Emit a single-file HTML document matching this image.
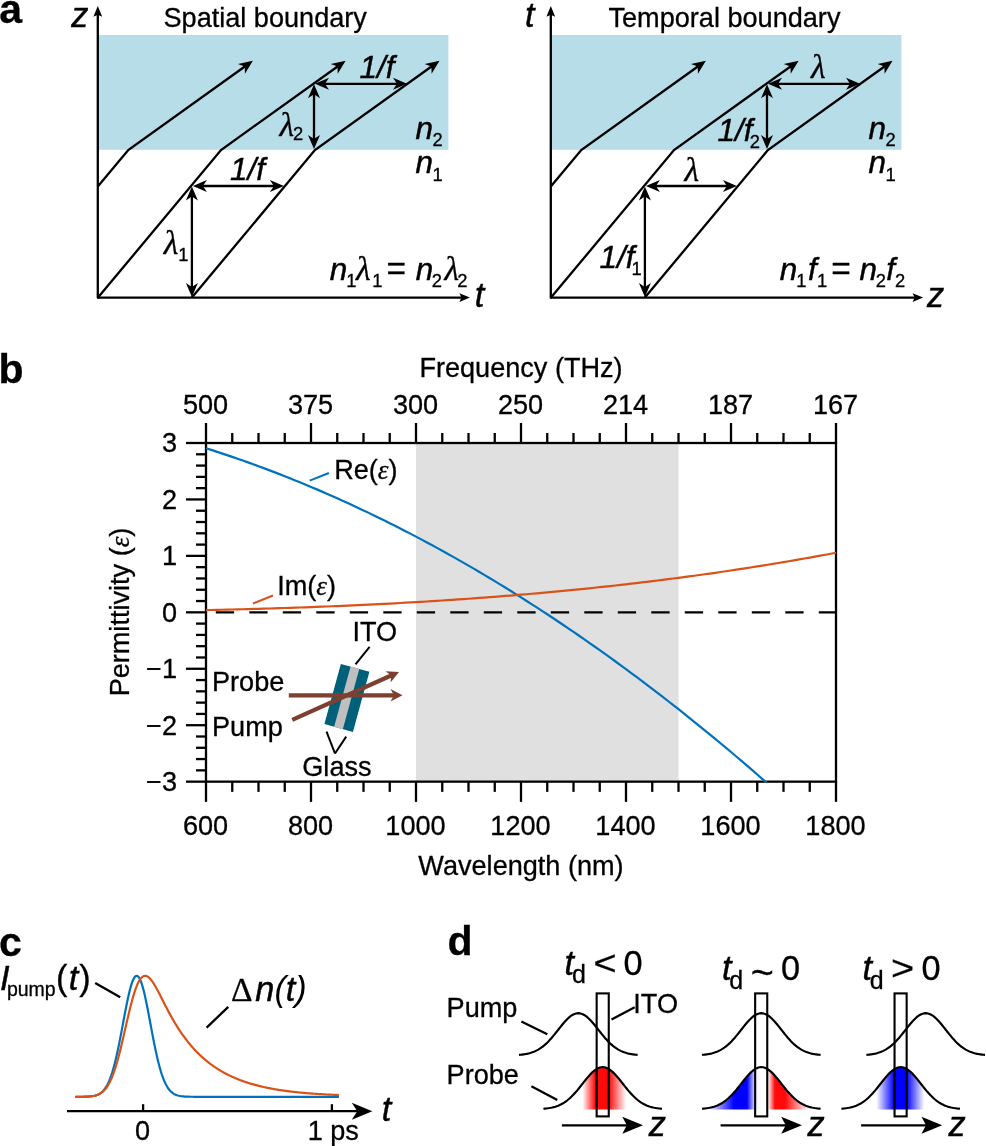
<!DOCTYPE html>
<html lang="en"><head><meta charset="utf-8"><title>Figure</title>
<style>
html,body{margin:0;padding:0;background:#fff;}
svg{display:block;}
text{fill:#000;stroke:#000;stroke-width:0.3px;}
.i{stroke-width:0.45px;}
.u{font-family:"Liberation Sans",Arial,Helvetica,sans-serif;font-style:normal;font-weight:normal;}
.i{font-family:"Liberation Sans",Arial,Helvetica,sans-serif;font-style:italic;font-weight:normal;}
.b{font-family:"Liberation Sans",Arial,Helvetica,sans-serif;font-weight:bold;}
.ip{font-family:"Liberation Sans",Arial,Helvetica,sans-serif;font-style:italic;font-weight:normal;stroke:none;}
.s{font-family:"Liberation Serif","Times New Roman",serif;font-style:normal;}
.si{font-family:"Liberation Serif","Times New Roman",serif;font-style:italic;}
</style></head><body>
<svg width="986" height="1146" viewBox="0 0 986 1146">
<rect width="986" height="1146" fill="#fff"/>
<rect x="99.0" y="35" width="349.4" height="114.8" fill="#b7dde8"/>
<line x1="97.80" y1="297.60" x2="97.80" y2="14.20" stroke="#000" stroke-width="2.3" />
<polygon points="97.80,6.00 102.20,16.70 97.80,14.70 93.40,16.70" fill="#000"/>
<line x1="98.00" y1="297.60" x2="461.90" y2="297.60" stroke="#000" stroke-width="2.3" />
<polygon points="469.90,297.60 459.40,301.90 461.40,297.60 459.40,293.30" fill="#000"/>
<line x1="96.85" y1="297.60" x2="99.00" y2="297.60" stroke="#000" stroke-width="2.3" />
<polyline points="98.00,186.30 128.25,150.00 245.54,65.95" fill="none" stroke="#000" stroke-width="2.3" stroke-linejoin="miter"/>
<polygon points="252.85,60.70 244.97,73.74 244.73,66.53 237.98,63.99" fill="#000"/>
<polyline points="98.00,297.60 221.00,150.00 338.29,65.95" fill="none" stroke="#000" stroke-width="2.3" stroke-linejoin="miter"/>
<polygon points="345.60,60.70 337.72,73.74 337.48,66.53 330.73,63.99" fill="#000"/>
<polyline points="191.90,297.60 314.90,150.00 432.19,65.95" fill="none" stroke="#000" stroke-width="2.3" stroke-linejoin="miter"/>
<polygon points="439.50,60.70 431.62,73.74 431.38,66.53 424.63,63.99" fill="#000"/>
<line x1="191.90" y1="287.60" x2="191.90" y2="196.10" stroke="#000" stroke-width="2.3" />
<polygon points="191.90,186.60 197.90,200.60 191.90,196.60 185.90,200.60" fill="#000"/>
<polygon points="191.90,297.10 185.90,283.10 191.90,287.10 197.90,283.10" fill="#000"/>
<line x1="202.40" y1="186.00" x2="274.40" y2="186.00" stroke="#000" stroke-width="2.3" />
<polygon points="283.90,186.00 269.90,192.00 273.90,186.00 269.90,180.00" fill="#000"/>
<polygon points="192.90,186.00 206.90,180.00 202.90,186.00 206.90,192.00" fill="#000"/>
<line x1="314.00" y1="139.50" x2="314.00" y2="93.85" stroke="#000" stroke-width="2.3" />
<polygon points="314.00,84.35 320.00,98.35 314.00,94.35 308.00,98.35" fill="#000"/>
<polygon points="314.00,149.00 308.00,135.00 314.00,139.00 320.00,135.00" fill="#000"/>
<line x1="324.50" y1="83.85" x2="397.50" y2="83.85" stroke="#000" stroke-width="2.3" />
<polygon points="407.00,83.85 393.00,89.85 397.00,83.85 393.00,77.85" fill="#000"/>
<polygon points="315.00,83.85 329.00,77.85 325.00,83.85 329.00,89.85" fill="#000"/>
<text x="-0.8" y="22.8" font-size="41.0" text-anchor="start" class="b" >a</text>
<text x="71.3" y="27.0" font-size="34.3" class="i">z</text>
<text x="474.8" y="306.9" font-size="34.3" class="i">t</text>
<text x="359.6" y="77.6" font-size="31.5" class="i">1/f</text>
<text x="230.1" y="180.3" font-size="31.5" class="i">1/f</text>
<text x="279.4" y="135.5" font-size="33.7" class="si">λ</text>
<text x="293.1" y="140.4" font-size="18.4" class="u">2</text>
<text x="163.8" y="253.8" font-size="33.7" class="si">λ</text>
<text x="178.3" y="260.5" font-size="18.4" class="u">1</text>
<text x="415.5" y="139.3" font-size="31.5" class="i">n</text>
<text x="432.5" y="146.3" font-size="18.4" class="u">2</text>
<text x="415.5" y="173.4" font-size="31.5" class="i">n</text>
<text x="432.5" y="180.5" font-size="18.4" class="u">1</text>
<text x="329.7" y="279.7" font-size="31.5" class="i">n</text>
<text x="346.3" y="286.6" font-size="18.4" class="u">1</text>
<text x="356.1" y="279.7" font-size="33.7" class="si">λ</text>
<text x="372.2" y="286.6" font-size="18.4" class="u">1</text>
<text x="386.5" y="279.7" font-size="33.5" class="u">=</text>
<text x="415.7" y="279.7" font-size="31.5" class="i">n</text>
<text x="431.8" y="286.6" font-size="18.4" class="u">2</text>
<text x="444.4" y="279.7" font-size="33.7" class="si">λ</text>
<text x="457.2" y="286.6" font-size="18.4" class="u">2</text>
<text x="163.5" y="26.5" font-size="27.1" text-anchor="start" class="u" >Spatial boundary</text>
<rect x="552.0" y="35" width="349.4" height="114.8" fill="#b7dde8"/>
<line x1="550.80" y1="297.60" x2="550.80" y2="14.20" stroke="#000" stroke-width="2.3" />
<polygon points="550.80,6.00 555.20,16.70 550.80,14.70 546.40,16.70" fill="#000"/>
<line x1="551.00" y1="297.60" x2="915.10" y2="297.60" stroke="#000" stroke-width="2.3" />
<polygon points="923.10,297.60 912.60,301.90 914.60,297.60 912.60,293.30" fill="#000"/>
<line x1="549.85" y1="297.60" x2="552.00" y2="297.60" stroke="#000" stroke-width="2.3" />
<polyline points="551.00,186.30 581.25,150.00 698.54,65.95" fill="none" stroke="#000" stroke-width="2.3" stroke-linejoin="miter"/>
<polygon points="705.85,60.70 697.97,73.74 697.73,66.53 690.98,63.99" fill="#000"/>
<polyline points="551.00,297.60 674.00,150.00 791.29,65.95" fill="none" stroke="#000" stroke-width="2.3" stroke-linejoin="miter"/>
<polygon points="798.60,60.70 790.72,73.74 790.48,66.53 783.73,63.99" fill="#000"/>
<polyline points="644.90,297.60 767.90,150.00 885.19,65.95" fill="none" stroke="#000" stroke-width="2.3" stroke-linejoin="miter"/>
<polygon points="892.50,60.70 884.62,73.74 884.38,66.53 877.63,63.99" fill="#000"/>
<line x1="644.90" y1="287.60" x2="644.90" y2="196.10" stroke="#000" stroke-width="2.3" />
<polygon points="644.90,186.60 650.90,200.60 644.90,196.60 638.90,200.60" fill="#000"/>
<polygon points="644.90,297.10 638.90,283.10 644.90,287.10 650.90,283.10" fill="#000"/>
<line x1="655.40" y1="186.00" x2="727.40" y2="186.00" stroke="#000" stroke-width="2.3" />
<polygon points="736.90,186.00 722.90,192.00 726.90,186.00 722.90,180.00" fill="#000"/>
<polygon points="645.90,186.00 659.90,180.00 655.90,186.00 659.90,192.00" fill="#000"/>
<line x1="767.00" y1="139.50" x2="767.00" y2="93.85" stroke="#000" stroke-width="2.3" />
<polygon points="767.00,84.35 773.00,98.35 767.00,94.35 761.00,98.35" fill="#000"/>
<polygon points="767.00,149.00 761.00,135.00 767.00,139.00 773.00,135.00" fill="#000"/>
<line x1="777.50" y1="83.85" x2="850.50" y2="83.85" stroke="#000" stroke-width="2.3" />
<polygon points="860.00,83.85 846.00,89.85 850.00,83.85 846.00,77.85" fill="#000"/>
<polygon points="768.00,83.85 782.00,77.85 778.00,83.85 782.00,89.85" fill="#000"/>
<text x="524.9" y="26.9" font-size="34.3" class="i">t</text>
<text x="927.1" y="306.8" font-size="34.3" class="i">z</text>
<text x="811.0" y="77.6" font-size="33.7" class="si">λ</text>
<text x="684.5" y="181.4" font-size="33.7" class="si">λ</text>
<text x="717.6" y="140.9" font-size="31.5" class="i">1/f</text>
<text x="749.8" y="147.9" font-size="18.4" class="u">2</text>
<text x="599.5" y="268.0" font-size="31.5" class="i">1/f</text>
<text x="631.6" y="274.8" font-size="18.4" class="u">1</text>
<text x="868.5" y="139.3" font-size="31.5" class="i">n</text>
<text x="885.5" y="146.3" font-size="18.4" class="u">2</text>
<text x="868.5" y="173.4" font-size="31.5" class="i">n</text>
<text x="885.5" y="180.5" font-size="18.4" class="u">1</text>
<text x="779.7" y="279.7" font-size="31.5" class="i">n</text>
<text x="796.3" y="286.6" font-size="18.4" class="u">1</text>
<text x="807.9" y="279.7" font-size="31.5" class="i">f</text>
<text x="816.9" y="286.6" font-size="18.4" class="u">1</text>
<text x="831.2" y="279.7" font-size="33.5" class="u">=</text>
<text x="859.6" y="279.7" font-size="31.5" class="i">n</text>
<text x="875.7" y="286.6" font-size="18.4" class="u">2</text>
<text x="886.3" y="279.7" font-size="31.5" class="i">f</text>
<text x="895.0" y="286.6" font-size="18.4" class="u">2</text>
<text x="608.5" y="26.5" font-size="27.1" text-anchor="start" class="u" >Temporal boundary</text>
<text x="-1.6" y="383.4" font-size="41.0" text-anchor="start" class="b" >b</text>
<rect x="416.0" y="443.0" width="262.5" height="338.6" fill="#e0e0e0"/>
<line x1="215.8" y1="612.3" x2="836.0" y2="612.3" stroke="#000" stroke-width="2.2" stroke-dasharray="18.3 15.2"/>
<rect x="206.0" y="443.0" width="630.0" height="338.65" fill="none" stroke="#000" stroke-width="2.3"/>
<line x1="206.00" y1="443.00" x2="206.00" y2="423.00" stroke="#000" stroke-width="2.3" />
<line x1="206.00" y1="781.65" x2="206.00" y2="801.85" stroke="#000" stroke-width="2.3" />
<line x1="232.25" y1="443.00" x2="232.25" y2="433.00" stroke="#000" stroke-width="2.3" />
<line x1="232.25" y1="781.65" x2="232.25" y2="791.85" stroke="#000" stroke-width="2.3" />
<line x1="258.50" y1="443.00" x2="258.50" y2="433.00" stroke="#000" stroke-width="2.3" />
<line x1="258.50" y1="781.65" x2="258.50" y2="791.85" stroke="#000" stroke-width="2.3" />
<line x1="284.75" y1="443.00" x2="284.75" y2="433.00" stroke="#000" stroke-width="2.3" />
<line x1="284.75" y1="781.65" x2="284.75" y2="791.85" stroke="#000" stroke-width="2.3" />
<line x1="311.00" y1="443.00" x2="311.00" y2="423.00" stroke="#000" stroke-width="2.3" />
<line x1="311.00" y1="781.65" x2="311.00" y2="801.85" stroke="#000" stroke-width="2.3" />
<line x1="337.25" y1="443.00" x2="337.25" y2="433.00" stroke="#000" stroke-width="2.3" />
<line x1="337.25" y1="781.65" x2="337.25" y2="791.85" stroke="#000" stroke-width="2.3" />
<line x1="363.50" y1="443.00" x2="363.50" y2="433.00" stroke="#000" stroke-width="2.3" />
<line x1="363.50" y1="781.65" x2="363.50" y2="791.85" stroke="#000" stroke-width="2.3" />
<line x1="389.75" y1="443.00" x2="389.75" y2="433.00" stroke="#000" stroke-width="2.3" />
<line x1="389.75" y1="781.65" x2="389.75" y2="791.85" stroke="#000" stroke-width="2.3" />
<line x1="416.00" y1="443.00" x2="416.00" y2="423.00" stroke="#000" stroke-width="2.3" />
<line x1="416.00" y1="781.65" x2="416.00" y2="801.85" stroke="#000" stroke-width="2.3" />
<line x1="442.25" y1="443.00" x2="442.25" y2="433.00" stroke="#000" stroke-width="2.3" />
<line x1="442.25" y1="781.65" x2="442.25" y2="791.85" stroke="#000" stroke-width="2.3" />
<line x1="468.50" y1="443.00" x2="468.50" y2="433.00" stroke="#000" stroke-width="2.3" />
<line x1="468.50" y1="781.65" x2="468.50" y2="791.85" stroke="#000" stroke-width="2.3" />
<line x1="494.75" y1="443.00" x2="494.75" y2="433.00" stroke="#000" stroke-width="2.3" />
<line x1="494.75" y1="781.65" x2="494.75" y2="791.85" stroke="#000" stroke-width="2.3" />
<line x1="521.00" y1="443.00" x2="521.00" y2="423.00" stroke="#000" stroke-width="2.3" />
<line x1="521.00" y1="781.65" x2="521.00" y2="801.85" stroke="#000" stroke-width="2.3" />
<line x1="547.25" y1="443.00" x2="547.25" y2="433.00" stroke="#000" stroke-width="2.3" />
<line x1="547.25" y1="781.65" x2="547.25" y2="791.85" stroke="#000" stroke-width="2.3" />
<line x1="573.50" y1="443.00" x2="573.50" y2="433.00" stroke="#000" stroke-width="2.3" />
<line x1="573.50" y1="781.65" x2="573.50" y2="791.85" stroke="#000" stroke-width="2.3" />
<line x1="599.75" y1="443.00" x2="599.75" y2="433.00" stroke="#000" stroke-width="2.3" />
<line x1="599.75" y1="781.65" x2="599.75" y2="791.85" stroke="#000" stroke-width="2.3" />
<line x1="626.00" y1="443.00" x2="626.00" y2="423.00" stroke="#000" stroke-width="2.3" />
<line x1="626.00" y1="781.65" x2="626.00" y2="801.85" stroke="#000" stroke-width="2.3" />
<line x1="652.25" y1="443.00" x2="652.25" y2="433.00" stroke="#000" stroke-width="2.3" />
<line x1="652.25" y1="781.65" x2="652.25" y2="791.85" stroke="#000" stroke-width="2.3" />
<line x1="678.50" y1="443.00" x2="678.50" y2="433.00" stroke="#000" stroke-width="2.3" />
<line x1="678.50" y1="781.65" x2="678.50" y2="791.85" stroke="#000" stroke-width="2.3" />
<line x1="704.75" y1="443.00" x2="704.75" y2="433.00" stroke="#000" stroke-width="2.3" />
<line x1="704.75" y1="781.65" x2="704.75" y2="791.85" stroke="#000" stroke-width="2.3" />
<line x1="731.00" y1="443.00" x2="731.00" y2="423.00" stroke="#000" stroke-width="2.3" />
<line x1="731.00" y1="781.65" x2="731.00" y2="801.85" stroke="#000" stroke-width="2.3" />
<line x1="757.25" y1="443.00" x2="757.25" y2="433.00" stroke="#000" stroke-width="2.3" />
<line x1="757.25" y1="781.65" x2="757.25" y2="791.85" stroke="#000" stroke-width="2.3" />
<line x1="783.50" y1="443.00" x2="783.50" y2="433.00" stroke="#000" stroke-width="2.3" />
<line x1="783.50" y1="781.65" x2="783.50" y2="791.85" stroke="#000" stroke-width="2.3" />
<line x1="809.75" y1="443.00" x2="809.75" y2="433.00" stroke="#000" stroke-width="2.3" />
<line x1="809.75" y1="781.65" x2="809.75" y2="791.85" stroke="#000" stroke-width="2.3" />
<line x1="836.00" y1="443.00" x2="836.00" y2="423.00" stroke="#000" stroke-width="2.3" />
<line x1="836.00" y1="781.65" x2="836.00" y2="801.85" stroke="#000" stroke-width="2.3" />
<line x1="206.00" y1="443.00" x2="186.00" y2="443.00" stroke="#000" stroke-width="2.3" />
<line x1="206.00" y1="454.29" x2="196.00" y2="454.29" stroke="#000" stroke-width="2.3" />
<line x1="206.00" y1="465.58" x2="196.00" y2="465.58" stroke="#000" stroke-width="2.3" />
<line x1="206.00" y1="476.87" x2="196.00" y2="476.87" stroke="#000" stroke-width="2.3" />
<line x1="206.00" y1="488.15" x2="196.00" y2="488.15" stroke="#000" stroke-width="2.3" />
<line x1="206.00" y1="499.44" x2="186.00" y2="499.44" stroke="#000" stroke-width="2.3" />
<line x1="206.00" y1="510.73" x2="196.00" y2="510.73" stroke="#000" stroke-width="2.3" />
<line x1="206.00" y1="522.02" x2="196.00" y2="522.02" stroke="#000" stroke-width="2.3" />
<line x1="206.00" y1="533.31" x2="196.00" y2="533.31" stroke="#000" stroke-width="2.3" />
<line x1="206.00" y1="544.60" x2="196.00" y2="544.60" stroke="#000" stroke-width="2.3" />
<line x1="206.00" y1="555.88" x2="186.00" y2="555.88" stroke="#000" stroke-width="2.3" />
<line x1="206.00" y1="567.17" x2="196.00" y2="567.17" stroke="#000" stroke-width="2.3" />
<line x1="206.00" y1="578.46" x2="196.00" y2="578.46" stroke="#000" stroke-width="2.3" />
<line x1="206.00" y1="589.75" x2="196.00" y2="589.75" stroke="#000" stroke-width="2.3" />
<line x1="206.00" y1="601.04" x2="196.00" y2="601.04" stroke="#000" stroke-width="2.3" />
<line x1="206.00" y1="612.33" x2="186.00" y2="612.33" stroke="#000" stroke-width="2.3" />
<line x1="206.00" y1="623.61" x2="196.00" y2="623.61" stroke="#000" stroke-width="2.3" />
<line x1="206.00" y1="634.90" x2="196.00" y2="634.90" stroke="#000" stroke-width="2.3" />
<line x1="206.00" y1="646.19" x2="196.00" y2="646.19" stroke="#000" stroke-width="2.3" />
<line x1="206.00" y1="657.48" x2="196.00" y2="657.48" stroke="#000" stroke-width="2.3" />
<line x1="206.00" y1="668.77" x2="186.00" y2="668.77" stroke="#000" stroke-width="2.3" />
<line x1="206.00" y1="680.05" x2="196.00" y2="680.05" stroke="#000" stroke-width="2.3" />
<line x1="206.00" y1="691.34" x2="196.00" y2="691.34" stroke="#000" stroke-width="2.3" />
<line x1="206.00" y1="702.63" x2="196.00" y2="702.63" stroke="#000" stroke-width="2.3" />
<line x1="206.00" y1="713.92" x2="196.00" y2="713.92" stroke="#000" stroke-width="2.3" />
<line x1="206.00" y1="725.21" x2="186.00" y2="725.21" stroke="#000" stroke-width="2.3" />
<line x1="206.00" y1="736.50" x2="196.00" y2="736.50" stroke="#000" stroke-width="2.3" />
<line x1="206.00" y1="747.79" x2="196.00" y2="747.79" stroke="#000" stroke-width="2.3" />
<line x1="206.00" y1="759.07" x2="196.00" y2="759.07" stroke="#000" stroke-width="2.3" />
<line x1="206.00" y1="770.36" x2="196.00" y2="770.36" stroke="#000" stroke-width="2.3" />
<line x1="206.00" y1="781.65" x2="186.00" y2="781.65" stroke="#000" stroke-width="2.3" />
<clipPath id="cpb"><rect x="205.0" y="443.0" width="632.0" height="339.45"/></clipPath>
<polyline points="206.00,448.24 211.25,449.91 216.50,451.61 221.75,453.33 227.00,455.09 232.25,456.87 237.50,458.68 242.75,460.51 248.00,462.38 253.25,464.27 258.50,466.19 263.75,468.14 269.00,470.11 274.25,472.11 279.50,474.14 284.75,476.20 290.00,478.28 295.25,480.40 300.50,482.54 305.75,484.71 311.00,486.90 316.25,489.12 321.50,491.38 326.75,493.65 332.00,495.96 337.25,498.29 342.50,500.66 347.75,503.04 353.00,505.46 358.25,507.91 363.50,510.38 368.75,512.88 374.00,515.40 379.25,517.96 384.50,520.54 389.75,523.15 395.00,525.79 400.25,528.45 405.50,531.15 410.75,533.87 416.00,536.61 421.25,539.39 426.50,542.19 431.75,545.02 437.00,547.88 442.25,550.77 447.50,553.68 452.75,556.62 458.00,559.59 463.25,562.59 468.50,565.61 473.75,568.66 479.00,571.74 484.25,574.85 489.50,577.99 494.75,581.15 500.00,584.34 505.25,587.56 510.50,590.80 515.75,594.07 521.00,597.37 526.25,600.70 531.50,604.06 536.75,607.44 542.00,610.85 547.25,614.29 552.50,617.76 557.75,621.25 563.00,624.77 568.25,628.32 573.50,631.90 578.75,635.50 584.00,639.13 589.25,642.79 594.50,646.48 599.75,650.19 605.00,653.94 610.25,657.71 615.50,661.50 620.75,665.33 626.00,669.18 631.25,673.06 636.50,676.97 641.75,680.90 647.00,684.87 652.25,688.86 657.50,692.88 662.75,696.92 668.00,701.00 673.25,705.10 678.50,709.23 683.75,713.38 689.00,717.57 694.25,721.78 699.50,726.02 704.75,730.29 710.00,734.58 715.25,738.90 720.50,743.25 725.75,747.63 731.00,752.03 736.25,756.47 741.50,760.93 746.75,765.42 752.00,769.93 757.25,774.47 762.50,779.05 767.75,783.64 773.00,788.27 778.25,792.92 783.50,797.60" fill="none" stroke="#0072bd" stroke-width="2.2" clip-path="url(#cpb)"/>
<polyline points="206.00,610.12 211.25,610.01 216.50,609.89 221.75,609.77 227.00,609.65 232.25,609.52 237.50,609.39 242.75,609.25 248.00,609.11 253.25,608.97 258.50,608.82 263.75,608.67 269.00,608.51 274.25,608.35 279.50,608.19 284.75,608.02 290.00,607.84 295.25,607.66 300.50,607.48 305.75,607.29 311.00,607.09 316.25,606.90 321.50,606.69 326.75,606.48 332.00,606.27 337.25,606.05 342.50,605.83 347.75,605.60 353.00,605.36 358.25,605.12 363.50,604.88 368.75,604.63 374.00,604.37 379.25,604.11 384.50,603.84 389.75,603.57 395.00,603.29 400.25,603.00 405.50,602.71 410.75,602.41 416.00,602.11 421.25,601.80 426.50,601.48 431.75,601.16 437.00,600.83 442.25,600.50 447.50,600.16 452.75,599.81 458.00,599.46 463.25,599.10 468.50,598.73 473.75,598.35 479.00,597.97 484.25,597.58 489.50,597.19 494.75,596.79 500.00,596.38 505.25,595.96 510.50,595.54 515.75,595.11 521.00,594.67 526.25,594.23 531.50,593.77 536.75,593.31 542.00,592.85 547.25,592.37 552.50,591.89 557.75,591.40 563.00,590.90 568.25,590.39 573.50,589.88 578.75,589.36 584.00,588.83 589.25,588.29 594.50,587.74 599.75,587.19 605.00,586.63 610.25,586.06 615.50,585.48 620.75,584.89 626.00,584.29 631.25,583.69 636.50,583.07 641.75,582.45 647.00,581.82 652.25,581.18 657.50,580.53 662.75,579.87 668.00,579.21 673.25,578.53 678.50,577.85 683.75,577.15 689.00,576.45 694.25,575.74 699.50,575.01 704.75,574.28 710.00,573.54 715.25,572.79 720.50,572.03 725.75,571.26 731.00,570.48 736.25,569.69 741.50,568.89 746.75,568.08 752.00,567.26 757.25,566.43 762.50,565.59 767.75,564.74 773.00,563.88 778.25,563.01 783.50,562.13 788.75,561.24 794.00,560.34 799.25,559.43 804.50,558.51 809.75,557.57 815.00,556.63 820.25,555.68 825.50,554.71 830.75,553.73 836.00,552.75" fill="none" stroke="#d95319" stroke-width="2.2" clip-path="url(#cpb)"/>
<text x="205.5" y="414.0" font-size="27.1" text-anchor="middle" class="u" >500</text>
<text x="205.5" y="834.9" font-size="27.1" text-anchor="middle" class="u" >600</text>
<text x="310.5" y="414.0" font-size="27.1" text-anchor="middle" class="u" >375</text>
<text x="310.5" y="834.9" font-size="27.1" text-anchor="middle" class="u" >800</text>
<text x="415.5" y="414.0" font-size="27.1" text-anchor="middle" class="u" >300</text>
<text x="415.5" y="834.9" font-size="27.1" text-anchor="middle" class="u" >1000</text>
<text x="520.5" y="414.0" font-size="27.1" text-anchor="middle" class="u" >250</text>
<text x="520.5" y="834.9" font-size="27.1" text-anchor="middle" class="u" >1200</text>
<text x="625.5" y="414.0" font-size="27.1" text-anchor="middle" class="u" >214</text>
<text x="625.5" y="834.9" font-size="27.1" text-anchor="middle" class="u" >1400</text>
<text x="730.5" y="414.0" font-size="27.1" text-anchor="middle" class="u" >187</text>
<text x="730.5" y="834.9" font-size="27.1" text-anchor="middle" class="u" >1600</text>
<text x="835.5" y="414.0" font-size="27.1" text-anchor="middle" class="u" >167</text>
<text x="835.5" y="834.9" font-size="27.1" text-anchor="middle" class="u" >1800</text>
<text x="177.0" y="452.3" font-size="27.1" text-anchor="end" class="u" >3</text>
<text x="177.0" y="508.7" font-size="27.1" text-anchor="end" class="u" >2</text>
<text x="177.0" y="565.2" font-size="27.1" text-anchor="end" class="u" >1</text>
<text x="177.0" y="621.6" font-size="27.1" text-anchor="end" class="u" >0</text>
<text x="177.0" y="678.1" font-size="27.1" text-anchor="end" class="u" >−1</text>
<text x="177.0" y="734.5" font-size="27.1" text-anchor="end" class="u" >−2</text>
<text x="177.0" y="790.9" font-size="27.1" text-anchor="end" class="u" >−3</text>
<text x="521.0" y="376.5" font-size="27.1" text-anchor="middle" class="u" >Frequency (THz)</text>
<text x="521.0" y="874.5" font-size="27.1" text-anchor="middle" class="u" >Wavelength (nm)</text>
<text transform="translate(129.4,612) rotate(-90)" text-anchor="middle" font-size="27.1" class="u">Permittivity (<tspan class="si">ε</tspan>)</text>
<text x="334.2" y="478.5" font-size="27.1" class="u">Re(<tspan class="si">ε</tspan>)</text>
<line x1="309.70" y1="480.60" x2="328.90" y2="473.00" stroke="#0072bd" stroke-width="2" />
<text x="277.2" y="594.5" font-size="27.1" class="u">Im(<tspan class="si">ε</tspan>)</text>
<line x1="253.00" y1="603.50" x2="273.00" y2="595.50" stroke="#d95319" stroke-width="2" />
<g transform="translate(346.9,697.9) rotate(15.3)"><rect x="-14.8" y="-31.2" width="29.6" height="62.4" fill="#00607a"/><rect x="-4.7" y="-31.2" width="9.0" height="62.4" fill="#bfbfbf"/></g>
<line x1="288.80" y1="695.30" x2="394.50" y2="695.30" stroke="#7d3f2f" stroke-width="4.2" />
<polygon points="402.50,695.30 390.50,701.55 394.00,695.30 390.50,689.05" fill="#7d3f2f"/>
<line x1="292.20" y1="719.80" x2="391.70" y2="675.27" stroke="#7d3f2f" stroke-width="4.2" />
<polygon points="399.00,672.00 390.60,682.61 391.24,675.47 385.49,671.20" fill="#7d3f2f"/>
<text x="352.5" y="640.8" font-size="27.1" text-anchor="start" class="u" >ITO</text>
<line x1="369.60" y1="646.90" x2="355.50" y2="664.30" stroke="#000" stroke-width="2" />
<text x="212.0" y="691.2" font-size="27.1" text-anchor="start" class="u" >Probe</text>
<text x="212.0" y="735.9" font-size="27.1" text-anchor="start" class="u" >Pump</text>
<text x="302.3" y="776.4" font-size="27.1" text-anchor="start" class="u" >Glass</text>
<line x1="326.50" y1="731.70" x2="335.00" y2="753.50" stroke="#000" stroke-width="2" />
<line x1="346.20" y1="736.60" x2="335.00" y2="753.50" stroke="#000" stroke-width="2" />
<text x="-0.9" y="955.8" font-size="41.0" text-anchor="start" class="b" >c</text>
<line x1="67.00" y1="1111.20" x2="360.00" y2="1111.20" stroke="#000" stroke-width="2.3" />
<polygon points="372.30,1111.20 351.80,1119.70 357.30,1111.20 351.80,1102.70" fill="#000"/>
<line x1="143.10" y1="1111.20" x2="143.10" y2="1104.20" stroke="#000" stroke-width="2.3" />
<line x1="331.90" y1="1111.20" x2="331.90" y2="1104.20" stroke="#000" stroke-width="2.3" />
<text x="142.5" y="1140.2" font-size="27.1" text-anchor="middle" class="u" >0</text>
<text x="307.7" y="1140.2" font-size="27.1" text-anchor="start" class="u" >1 ps</text>
<text x="381.8" y="1121.1" font-size="34.3" text-anchor="start" class="i" >t</text>
<polyline points="75.31,1096.79 76.25,1096.79 77.19,1096.79 78.14,1096.79 79.08,1096.78 80.02,1096.78 80.96,1096.77 81.90,1096.76 82.84,1096.75 83.79,1096.73 84.73,1096.71 85.67,1096.69 86.61,1096.65 87.55,1096.61 88.49,1096.56 89.43,1096.49 90.38,1096.41 91.32,1096.31 92.26,1096.19 93.20,1096.03 94.14,1095.85 95.08,1095.62 96.02,1095.35 96.97,1095.03 97.91,1094.64 98.85,1094.18 99.79,1093.64 100.73,1093.00 101.67,1092.26 102.62,1091.39 103.56,1090.39 104.50,1089.25 105.44,1087.94 106.38,1086.45 107.32,1084.77 108.26,1082.89 109.21,1080.78 110.15,1078.45 111.09,1075.87 112.03,1073.04 112.97,1069.96 113.91,1066.63 114.85,1063.04 115.80,1059.20 116.74,1055.12 117.68,1050.83 118.62,1046.32 119.56,1041.64 120.50,1036.81 121.45,1031.86 122.39,1026.84 123.33,1021.79 124.27,1016.76 125.21,1011.79 126.15,1006.94 127.09,1002.26 128.04,997.81 128.98,993.64 129.92,989.80 130.86,986.34 131.80,983.32 132.74,980.76 133.69,978.70 134.63,977.18 135.57,976.21 136.51,975.81 137.45,975.98 138.39,976.73 139.33,978.03 140.28,979.87 141.22,982.23 142.16,985.08 143.10,988.37 144.04,992.06 144.98,996.10 145.92,1000.45 146.87,1005.04 147.81,1009.83 148.75,1014.76 149.69,1019.77 150.63,1024.82 151.57,1029.86 152.52,1034.84 153.46,1039.72 154.40,1044.47 155.34,1049.05 156.28,1053.43 157.22,1057.60 158.16,1061.53 159.11,1065.22 160.05,1068.66 160.99,1071.84 161.93,1074.77 162.87,1077.45 163.81,1079.88 164.75,1082.07 165.70,1084.04 166.64,1085.80 167.58,1087.37 168.52,1088.74 169.46,1089.95 170.40,1091.01 171.34,1091.93 172.29,1092.72 173.23,1093.39 174.17,1093.97 175.11,1094.47 176.05,1094.88 176.99,1095.23 177.94,1095.52 178.88,1095.76 179.82,1095.96 180.76,1096.13 181.70,1096.26 182.64,1096.37 183.58,1096.46 184.53,1096.53 185.47,1096.59 186.41,1096.64 187.35,1096.67 188.29,1096.70 189.23,1096.72 190.18,1096.74 191.12,1096.76 192.06,1096.77 193.00,1096.77 193.94,1096.78 194.88,1096.79 195.82,1096.79 196.77,1096.79 197.71,1096.79 198.65,1096.80 199.59,1096.80 200.53,1096.80 201.47,1096.80 202.41,1096.80 203.36,1096.80 204.30,1096.80 205.24,1096.80 206.18,1096.80 207.12,1096.80 208.06,1096.80 209.00,1096.80 209.95,1096.80 210.89,1096.80 211.83,1096.80 212.77,1096.80 213.71,1096.80 214.65,1096.80 215.60,1096.80 216.54,1096.80 217.48,1096.80 218.42,1096.80 219.36,1096.80 220.30,1096.80 221.24,1096.80 222.19,1096.80 223.13,1096.80 224.07,1096.80 225.01,1096.80 225.95,1096.80 226.89,1096.80 227.84,1096.80 228.78,1096.80 229.72,1096.80 230.66,1096.80 231.60,1096.80 232.54,1096.80 233.48,1096.80 234.43,1096.80 235.37,1096.80 236.31,1096.80 237.25,1096.80 238.19,1096.80 239.13,1096.80 240.07,1096.80 241.02,1096.80 241.96,1096.80 242.90,1096.80 243.84,1096.80 244.78,1096.80 245.72,1096.80 246.67,1096.80 247.61,1096.80 248.55,1096.80 249.49,1096.80 250.43,1096.80 251.37,1096.80 252.31,1096.80 253.26,1096.80 254.20,1096.80 255.14,1096.80 256.08,1096.80 257.02,1096.80 257.96,1096.80 258.90,1096.80 259.85,1096.80 260.79,1096.80 261.73,1096.80 262.67,1096.80 263.61,1096.80 264.55,1096.80 265.50,1096.80 266.44,1096.80 267.38,1096.80 268.32,1096.80 269.26,1096.80 270.20,1096.80 271.14,1096.80 272.09,1096.80 273.03,1096.80 273.97,1096.80 274.91,1096.80 275.85,1096.80 276.79,1096.80 277.73,1096.80 278.68,1096.80 279.62,1096.80 280.56,1096.80 281.50,1096.80 282.44,1096.80 283.38,1096.80 284.33,1096.80 285.27,1096.80 286.21,1096.80 287.15,1096.80 288.09,1096.80 289.03,1096.80 289.97,1096.80 290.92,1096.80 291.86,1096.80 292.80,1096.80 293.74,1096.80 294.68,1096.80 295.62,1096.80 296.56,1096.80 297.51,1096.80 298.45,1096.80 299.39,1096.80 300.33,1096.80 301.27,1096.80 302.21,1096.80 303.15,1096.80 304.10,1096.80 305.04,1096.80 305.98,1096.80 306.92,1096.80 307.86,1096.80 308.80,1096.80 309.75,1096.80 310.69,1096.80 311.63,1096.80 312.57,1096.80 313.51,1096.80 314.45,1096.80 315.39,1096.80 316.34,1096.80 317.28,1096.80 318.22,1096.80 319.16,1096.80 320.10,1096.80 321.04,1096.80 321.99,1096.80 322.93,1096.80 323.87,1096.80 324.81,1096.80 325.75,1096.80 326.69,1096.80 327.63,1096.80 328.58,1096.80 329.52,1096.80 330.46,1096.80 331.40,1096.80 332.34,1096.80 333.28,1096.80 334.22,1096.80 335.17,1096.80 336.11,1096.80 337.05,1096.80 337.99,1096.80 338.93,1096.80" fill="none" stroke="#0072bd" stroke-width="2.2"/>
<polyline points="75.31,1096.79 76.25,1096.79 77.19,1096.79 78.14,1096.78 79.08,1096.78 80.02,1096.77 80.96,1096.76 81.90,1096.75 82.84,1096.74 83.79,1096.72 84.73,1096.70 85.67,1096.67 86.61,1096.63 87.55,1096.59 88.49,1096.54 89.43,1096.47 90.38,1096.39 91.32,1096.28 92.26,1096.16 93.20,1096.01 94.14,1095.84 95.08,1095.62 96.02,1095.37 96.97,1095.07 97.91,1094.72 98.85,1094.31 99.79,1093.82 100.73,1093.27 101.67,1092.62 102.62,1091.88 103.56,1091.04 104.50,1090.08 105.44,1088.99 106.38,1087.77 107.32,1086.41 108.26,1084.89 109.21,1083.21 110.15,1081.36 111.09,1079.33 112.03,1077.12 112.97,1074.72 113.91,1072.14 114.85,1069.37 115.80,1066.41 116.74,1063.28 117.68,1059.97 118.62,1056.50 119.56,1052.88 120.50,1049.12 121.45,1045.25 122.39,1041.28 123.33,1037.23 124.27,1033.12 125.21,1028.99 126.15,1024.86 127.09,1020.74 128.04,1016.68 128.98,1012.70 129.92,1008.82 130.86,1005.07 131.80,1001.47 132.74,998.06 133.69,994.84 134.63,991.84 135.57,989.07 136.51,986.55 137.45,984.28 138.39,982.29 139.33,980.56 140.28,979.10 141.22,977.92 142.16,977.00 143.10,976.35 144.04,975.95 144.98,975.80 145.92,975.88 146.87,976.18 147.81,976.68 148.75,977.38 149.69,978.25 150.63,979.28 151.57,980.46 152.52,981.76 153.46,983.17 154.40,984.69 155.34,986.28 156.28,987.95 157.22,989.68 158.16,991.45 159.11,993.26 160.05,995.09 160.99,996.94 161.93,998.80 162.87,1000.67 163.81,1002.53 164.75,1004.38 165.70,1006.22 166.64,1008.04 167.58,1009.84 168.52,1011.62 169.46,1013.38 170.40,1015.10 171.34,1016.80 172.29,1018.47 173.23,1020.11 174.17,1021.73 175.11,1023.31 176.05,1024.86 176.99,1026.37 177.94,1027.86 178.88,1029.32 179.82,1030.75 180.76,1032.15 181.70,1033.52 182.64,1034.86 183.58,1036.18 184.53,1037.46 185.47,1038.72 186.41,1039.95 187.35,1041.16 188.29,1042.34 189.23,1043.50 190.18,1044.63 191.12,1045.74 192.06,1046.82 193.00,1047.88 193.94,1048.92 194.88,1049.94 195.82,1050.93 196.77,1051.91 197.71,1052.86 198.65,1053.79 199.59,1054.70 200.53,1055.60 201.47,1056.47 202.41,1057.33 203.36,1058.17 204.30,1058.99 205.24,1059.79 206.18,1060.58 207.12,1061.34 208.06,1062.10 209.00,1062.83 209.95,1063.56 210.89,1064.26 211.83,1064.95 212.77,1065.63 213.71,1066.29 214.65,1066.94 215.60,1067.57 216.54,1068.19 217.48,1068.80 218.42,1069.39 219.36,1069.98 220.30,1070.55 221.24,1071.10 222.19,1071.65 223.13,1072.18 224.07,1072.70 225.01,1073.22 225.95,1073.72 226.89,1074.21 227.84,1074.69 228.78,1075.16 229.72,1075.62 230.66,1076.07 231.60,1076.51 232.54,1076.94 233.48,1077.36 234.43,1077.77 235.37,1078.18 236.31,1078.57 237.25,1078.96 238.19,1079.34 239.13,1079.71 240.07,1080.07 241.02,1080.43 241.96,1080.77 242.90,1081.11 243.84,1081.45 244.78,1081.77 245.72,1082.09 246.67,1082.40 247.61,1082.71 248.55,1083.01 249.49,1083.30 250.43,1083.59 251.37,1083.87 252.31,1084.14 253.26,1084.41 254.20,1084.67 255.14,1084.93 256.08,1085.18 257.02,1085.43 257.96,1085.67 258.90,1085.91 259.85,1086.14 260.79,1086.37 261.73,1086.59 262.67,1086.80 263.61,1087.02 264.55,1087.22 265.50,1087.43 266.44,1087.63 267.38,1087.82 268.32,1088.01 269.26,1088.20 270.20,1088.38 271.14,1088.56 272.09,1088.73 273.03,1088.91 273.97,1089.07 274.91,1089.24 275.85,1089.40 276.79,1089.56 277.73,1089.71 278.68,1089.86 279.62,1090.01 280.56,1090.15 281.50,1090.29 282.44,1090.43 283.38,1090.57 284.33,1090.70 285.27,1090.83 286.21,1090.95 287.15,1091.08 288.09,1091.20 289.03,1091.32 289.97,1091.44 290.92,1091.55 291.86,1091.66 292.80,1091.77 293.74,1091.88 294.68,1091.98 295.62,1092.08 296.56,1092.18 297.51,1092.28 298.45,1092.38 299.39,1092.47 300.33,1092.56 301.27,1092.65 302.21,1092.74 303.15,1092.83 304.10,1092.91 305.04,1092.99 305.98,1093.08 306.92,1093.15 307.86,1093.23 308.80,1093.31 309.75,1093.38 310.69,1093.45 311.63,1093.53 312.57,1093.59 313.51,1093.66 314.45,1093.73 315.39,1093.79 316.34,1093.86 317.28,1093.92 318.22,1093.98 319.16,1094.04 320.10,1094.10 321.04,1094.16 321.99,1094.21 322.93,1094.27 323.87,1094.32 324.81,1094.37 325.75,1094.43 326.69,1094.48 327.63,1094.53 328.58,1094.57 329.52,1094.62 330.46,1094.67 331.40,1094.71 332.34,1094.76 333.28,1094.80 334.22,1094.84 335.17,1094.88 336.11,1094.93 337.05,1094.97 337.99,1095.00 338.93,1095.04" fill="none" stroke="#d95319" stroke-width="2.2"/>
<text x="-0.1" y="990.3" font-size="34.3" class="i">I</text>
<text x="6.9" y="995.9" font-size="19.5" class="u">pump</text>
<text x="55.9" y="990.3" font-size="34.3" class="u">(</text>
<text x="68.8" y="990.3" font-size="34.3" class="i">t</text>
<text x="79.2" y="990.3" font-size="34.3" class="u">)</text>
<text x="231.0" y="1001.3" font-size="33.5" class="s">Δ</text>
<text x="255.3" y="1001.3" font-size="34.3" class="i">n</text>
<text x="274.4" y="1001.3" font-size="34.3" class="ip">(</text>
<text x="285.8" y="1001.3" font-size="34.3" class="i">t</text>
<text x="295.3" y="1001.3" font-size="34.3" class="ip">)</text>
<line x1="95.20" y1="982.90" x2="120.20" y2="997.20" stroke="#000" stroke-width="2.3" />
<line x1="206.60" y1="1027.60" x2="228.30" y2="1006.90" stroke="#000" stroke-width="2.3" />
<text x="447.4" y="955.4" font-size="41.0" text-anchor="start" class="b" >d</text>
<defs><linearGradient id="g1" x1="0" x2="1" y1="0" y2="0"><stop offset="0" stop-color="#fff"/><stop offset="0.29" stop-color="#ff0a0a"/><stop offset="0.60" stop-color="#ff0a0a"/><stop offset="1" stop-color="#fff"/></linearGradient><linearGradient id="g3" x1="0" x2="1" y1="0" y2="0"><stop offset="0" stop-color="#fff"/><stop offset="0.37" stop-color="#0000ff"/><stop offset="0.63" stop-color="#0000ff"/><stop offset="1" stop-color="#fff"/></linearGradient><linearGradient id="g2" x1="0" x2="1" y1="0" y2="0"><stop offset="0" stop-color="#fff"/><stop offset="0.05" stop-color="#f4f4ff"/><stop offset="0.265" stop-color="#0000ff"/><stop offset="0.376" stop-color="#0000ff"/><stop offset="0.45" stop-color="#f0f0ff"/><stop offset="0.50" stop-color="#fff"/><stop offset="0.555" stop-color="#fff"/><stop offset="0.615" stop-color="#ff0a0a"/><stop offset="0.70" stop-color="#ff0a0a"/><stop offset="0.906" stop-color="#fff"/><stop offset="1" stop-color="#fff"/></linearGradient></defs>
<polygon points="582.50,1109.60 582.50,1083.83 583.05,1083.13 583.60,1082.44 584.14,1081.74 584.69,1081.05 585.24,1080.37 585.78,1079.68 586.33,1079.01 586.88,1078.34 587.43,1077.68 587.98,1077.03 588.52,1076.39 589.07,1075.77 589.62,1075.16 590.16,1074.56 590.71,1073.98 591.26,1073.41 591.81,1072.86 592.36,1072.33 592.90,1071.83 593.45,1071.34 594.00,1070.88 594.54,1070.43 595.09,1070.02 595.64,1069.62 596.19,1069.26 596.74,1068.92 597.28,1068.61 597.83,1068.32 598.38,1068.06 598.92,1067.84 599.47,1067.64 600.02,1067.47 600.57,1067.34 601.12,1067.23 601.66,1067.16 602.21,1067.11 602.76,1067.10 603.30,1067.12 603.85,1067.17 604.40,1067.25 604.95,1067.36 605.50,1067.51 606.04,1067.68 606.59,1067.88 607.14,1068.12 607.68,1068.38 608.23,1068.67 608.78,1068.99 609.33,1069.33 609.88,1069.70 610.42,1070.10 610.97,1070.52 611.52,1070.97 612.06,1071.44 612.61,1071.93 613.16,1072.44 613.71,1072.98 614.25,1073.53 614.80,1074.10 615.35,1074.68 615.90,1075.28 616.44,1075.90 616.99,1076.53 617.54,1077.17 618.09,1077.82 618.63,1078.48 619.18,1079.15 619.73,1079.83 620.28,1080.51 620.82,1081.20 621.37,1081.89 621.92,1082.58 622.47,1083.28 623.01,1083.98 623.56,1084.67 624.11,1085.37 624.66,1086.06 625.20,1086.75 625.75,1087.44 626.30,1088.12 626.30,1109.60" fill="url(#g1)"/>
<polyline points="519.00,1054.86 520.48,1054.73 521.97,1054.57 523.45,1054.38 524.93,1054.16 526.41,1053.89 527.89,1053.58 529.38,1053.22 530.86,1052.80 532.34,1052.31 533.83,1051.75 535.31,1051.12 536.79,1050.40 538.27,1049.59 539.75,1048.69 541.24,1047.69 542.72,1046.59 544.20,1045.39 545.68,1044.09 547.17,1042.68 548.65,1041.18 550.13,1039.59 551.62,1037.92 553.10,1036.17 554.58,1034.37 556.06,1032.52 557.54,1030.64 559.03,1028.75 560.51,1026.88 561.99,1025.03 563.47,1023.25 564.96,1021.54 566.44,1019.94 567.92,1018.47 569.40,1017.14 570.89,1015.97 572.37,1015.00 573.85,1014.22 575.33,1013.66 576.82,1013.31 578.30,1013.20 579.78,1013.31 581.26,1013.66 582.75,1014.22 584.23,1015.00 585.71,1015.97 587.19,1017.14 588.68,1018.47 590.16,1019.94 591.64,1021.54 593.12,1023.25 594.61,1025.03 596.09,1026.88 597.57,1028.75 599.05,1030.64 600.54,1032.52 602.02,1034.37 603.50,1036.17 604.98,1037.92 606.47,1039.59 607.95,1041.18 609.43,1042.68 610.91,1044.09 612.40,1045.39 613.88,1046.59 615.36,1047.69 616.84,1048.69 618.33,1049.59 619.81,1050.40 621.29,1051.12 622.77,1051.75 624.26,1052.31 625.74,1052.80 627.22,1053.22 628.70,1053.58 630.19,1053.89 631.67,1054.16 633.15,1054.38 634.63,1054.57 636.12,1054.73 637.60,1054.86" fill="none" stroke="#000" stroke-width="2.15"/>
<polyline points="543.40,1108.76 544.88,1108.63 546.37,1108.47 547.85,1108.28 549.33,1108.06 550.81,1107.79 552.30,1107.48 553.78,1107.12 555.26,1106.70 556.74,1106.21 558.23,1105.65 559.71,1105.02 561.19,1104.30 562.67,1103.49 564.16,1102.59 565.64,1101.59 567.12,1100.49 568.60,1099.29 570.09,1097.99 571.57,1096.58 573.05,1095.08 574.53,1093.49 576.02,1091.82 577.50,1090.07 578.98,1088.27 580.46,1086.42 581.95,1084.54 583.43,1082.65 584.91,1080.78 586.39,1078.93 587.88,1077.15 589.36,1075.44 590.84,1073.84 592.32,1072.37 593.81,1071.04 595.29,1069.87 596.77,1068.90 598.25,1068.12 599.74,1067.56 601.22,1067.21 602.70,1067.10 604.18,1067.21 605.67,1067.56 607.15,1068.12 608.63,1068.90 610.11,1069.87 611.60,1071.04 613.08,1072.37 614.56,1073.84 616.04,1075.44 617.53,1077.15 619.01,1078.93 620.49,1080.78 621.97,1082.65 623.46,1084.54 624.94,1086.42 626.42,1088.27 627.90,1090.07 629.38,1091.82 630.87,1093.49 632.35,1095.08 633.83,1096.58 635.32,1097.99 636.80,1099.29 638.28,1100.49 639.76,1101.59 641.25,1102.59 642.73,1103.49 644.21,1104.30 645.69,1105.02 647.17,1105.65 648.66,1106.21 650.14,1106.70 651.62,1107.12 653.11,1107.48 654.59,1107.79 656.07,1108.06 657.55,1108.28 659.03,1108.47 660.52,1108.63 662.00,1108.76" fill="none" stroke="#000" stroke-width="2.15"/>
<rect x="596.65" y="993.4" width="12.1" height="123.0" fill="none" stroke="#000" stroke-width="2.1"/>
<text x="564.5" y="975.0" font-size="34.3" class="i">t</text>
<text x="572.1" y="983.1" font-size="25.0" class="u">d</text>
<text x="623.6" y="975.0" font-size="34.3" class="u">0</text>
<text x="593.4" y="975.0" font-size="34.3" class="u" textLength="23.1" lengthAdjust="spacingAndGlyphs">&lt;</text>
<line x1="561.90" y1="1125.30" x2="629.00" y2="1125.30" stroke="#000" stroke-width="2.3" />
<polygon points="643.00,1125.30 622.30,1133.80 626.80,1125.30 622.30,1116.80" fill="#000"/>
<text x="648.7" y="1136.0" font-size="34.3" text-anchor="start" class="i" >z</text>
<polygon points="703.00,1109.60 703.00,1108.67 704.46,1108.53 705.92,1108.35 707.39,1108.14 708.85,1107.90 710.31,1107.61 711.77,1107.27 713.24,1106.88 714.70,1106.43 716.16,1105.91 717.62,1105.32 719.09,1104.65 720.55,1103.90 722.01,1103.05 723.48,1102.12 724.94,1101.08 726.40,1099.95 727.86,1098.72 729.33,1097.39 730.79,1095.97 732.25,1094.45 733.71,1092.85 735.17,1091.17 736.64,1089.42 738.10,1087.62 739.56,1085.79 741.02,1083.93 742.49,1082.07 743.95,1080.23 745.41,1078.42 746.88,1076.68 748.34,1075.02 749.80,1073.47 751.26,1072.05 752.73,1070.77 754.19,1069.66 755.65,1068.73 757.11,1068.01 758.58,1067.49 760.04,1067.18 761.50,1067.10 762.96,1067.24 764.42,1067.61 765.89,1068.18 767.35,1068.97 768.81,1069.95 770.27,1071.10 771.74,1072.42 773.20,1073.88 774.66,1075.47 776.12,1077.15 777.59,1078.91 779.05,1080.73 780.51,1082.57 781.98,1084.44 783.44,1086.29 784.90,1088.12 786.36,1089.90 787.83,1091.63 789.29,1093.29 790.75,1094.87 792.21,1096.37 793.67,1097.77 795.14,1099.07 796.60,1100.27 798.06,1101.38 799.52,1102.38 800.99,1103.29 802.45,1104.11 803.91,1104.84 805.38,1105.49 806.84,1106.06 808.30,1106.56 809.76,1106.99 811.23,1107.37 812.69,1107.69 814.15,1107.97 815.61,1108.20 817.08,1108.40 818.54,1108.57 820.00,1108.71 820.00,1109.60" fill="url(#g2)"/>
<polyline points="702.00,1054.86 703.48,1054.73 704.97,1054.57 706.45,1054.38 707.93,1054.16 709.41,1053.89 710.89,1053.58 712.38,1053.22 713.86,1052.80 715.34,1052.31 716.83,1051.75 718.31,1051.12 719.79,1050.40 721.27,1049.59 722.75,1048.69 724.24,1047.69 725.72,1046.59 727.20,1045.39 728.68,1044.09 730.17,1042.68 731.65,1041.18 733.13,1039.59 734.62,1037.92 736.10,1036.17 737.58,1034.37 739.06,1032.52 740.54,1030.64 742.03,1028.75 743.51,1026.88 744.99,1025.03 746.47,1023.25 747.96,1021.54 749.44,1019.94 750.92,1018.47 752.40,1017.14 753.89,1015.97 755.37,1015.00 756.85,1014.22 758.33,1013.66 759.82,1013.31 761.30,1013.20 762.78,1013.31 764.26,1013.66 765.75,1014.22 767.23,1015.00 768.71,1015.97 770.19,1017.14 771.68,1018.47 773.16,1019.94 774.64,1021.54 776.12,1023.25 777.61,1025.03 779.09,1026.88 780.57,1028.75 782.05,1030.64 783.54,1032.52 785.02,1034.37 786.50,1036.17 787.98,1037.92 789.47,1039.59 790.95,1041.18 792.43,1042.68 793.91,1044.09 795.40,1045.39 796.88,1046.59 798.36,1047.69 799.84,1048.69 801.33,1049.59 802.81,1050.40 804.29,1051.12 805.77,1051.75 807.26,1052.31 808.74,1052.80 810.22,1053.22 811.70,1053.58 813.19,1053.89 814.67,1054.16 816.15,1054.38 817.63,1054.57 819.12,1054.73 820.60,1054.86" fill="none" stroke="#000" stroke-width="2.15"/>
<polyline points="702.00,1108.76 703.48,1108.63 704.97,1108.47 706.45,1108.28 707.93,1108.06 709.41,1107.79 710.89,1107.48 712.38,1107.12 713.86,1106.70 715.34,1106.21 716.83,1105.65 718.31,1105.02 719.79,1104.30 721.27,1103.49 722.75,1102.59 724.24,1101.59 725.72,1100.49 727.20,1099.29 728.68,1097.99 730.17,1096.58 731.65,1095.08 733.13,1093.49 734.62,1091.82 736.10,1090.07 737.58,1088.27 739.06,1086.42 740.54,1084.54 742.03,1082.65 743.51,1080.78 744.99,1078.93 746.47,1077.15 747.96,1075.44 749.44,1073.84 750.92,1072.37 752.40,1071.04 753.89,1069.87 755.37,1068.90 756.85,1068.12 758.33,1067.56 759.82,1067.21 761.30,1067.10 762.78,1067.21 764.26,1067.56 765.75,1068.12 767.23,1068.90 768.71,1069.87 770.19,1071.04 771.68,1072.37 773.16,1073.84 774.64,1075.44 776.12,1077.15 777.61,1078.93 779.09,1080.78 780.57,1082.65 782.05,1084.54 783.54,1086.42 785.02,1088.27 786.50,1090.07 787.98,1091.82 789.47,1093.49 790.95,1095.08 792.43,1096.58 793.91,1097.99 795.40,1099.29 796.88,1100.49 798.36,1101.59 799.84,1102.59 801.33,1103.49 802.81,1104.30 804.29,1105.02 805.77,1105.65 807.26,1106.21 808.74,1106.70 810.22,1107.12 811.70,1107.48 813.19,1107.79 814.67,1108.06 816.15,1108.28 817.63,1108.47 819.12,1108.63 820.60,1108.76" fill="none" stroke="#000" stroke-width="2.15"/>
<rect x="755.15" y="993.4" width="12.1" height="123.0" fill="none" stroke="#000" stroke-width="2.1"/>
<text x="722.0" y="980.4" font-size="34.3" class="i">t</text>
<text x="729.3" y="988.5" font-size="25.0" class="u">d</text>
<text x="781.1" y="980.4" font-size="34.3" class="u">0</text>
<text x="750.8" y="986.0" font-size="39.5" class="u">~</text>
<line x1="720.60" y1="1125.30" x2="787.90" y2="1125.30" stroke="#000" stroke-width="2.3" />
<polygon points="801.90,1125.30 781.20,1133.80 785.70,1125.30 781.20,1116.80" fill="#000"/>
<text x="807.6" y="1136.0" font-size="34.3" text-anchor="start" class="i" >z</text>
<polygon points="876.30,1109.60 876.30,1089.10 876.90,1088.37 877.50,1087.62 878.10,1086.87 878.70,1086.12 879.30,1085.36 879.90,1084.60 880.50,1083.83 881.10,1083.07 881.70,1082.31 882.30,1081.54 882.90,1080.79 883.50,1080.04 884.10,1079.29 884.70,1078.56 885.30,1077.83 885.90,1077.12 886.50,1076.42 887.10,1075.73 887.70,1075.06 888.30,1074.41 888.90,1073.78 889.50,1073.17 890.10,1072.58 890.70,1072.01 891.30,1071.47 891.90,1070.96 892.50,1070.47 893.10,1070.01 893.70,1069.58 894.30,1069.19 894.90,1068.82 895.50,1068.49 896.10,1068.19 896.70,1067.93 897.30,1067.70 897.90,1067.51 898.50,1067.35 899.10,1067.23 899.70,1067.15 900.30,1067.11 900.90,1067.10 901.50,1067.13 902.10,1067.20 902.70,1067.31 903.30,1067.45 903.90,1067.63 904.50,1067.85 905.10,1068.10 905.70,1068.39 906.30,1068.71 906.90,1069.06 907.50,1069.45 908.10,1069.87 908.70,1070.31 909.30,1070.79 909.90,1071.30 910.50,1071.83 911.10,1072.39 911.70,1072.97 912.30,1073.57 912.90,1074.20 913.50,1074.85 914.10,1075.51 914.70,1076.19 915.30,1076.89 915.90,1077.59 916.50,1078.32 917.10,1079.05 917.70,1079.79 918.30,1080.54 918.90,1081.29 919.50,1082.05 920.10,1082.81 920.70,1083.58 921.30,1084.34 921.90,1085.10 922.50,1085.86 923.10,1086.62 923.70,1087.37 924.30,1088.12 924.30,1109.60" fill="url(#g3)"/>
<polyline points="866.40,1054.86 867.88,1054.73 869.37,1054.57 870.85,1054.38 872.33,1054.16 873.81,1053.89 875.30,1053.58 876.78,1053.22 878.26,1052.80 879.74,1052.31 881.23,1051.75 882.71,1051.12 884.19,1050.40 885.67,1049.59 887.16,1048.69 888.64,1047.69 890.12,1046.59 891.60,1045.39 893.09,1044.09 894.57,1042.68 896.05,1041.18 897.53,1039.59 899.02,1037.92 900.50,1036.17 901.98,1034.37 903.46,1032.52 904.95,1030.64 906.43,1028.75 907.91,1026.88 909.39,1025.03 910.88,1023.25 912.36,1021.54 913.84,1019.94 915.32,1018.47 916.81,1017.14 918.29,1015.97 919.77,1015.00 921.25,1014.22 922.74,1013.66 924.22,1013.31 925.70,1013.20 927.18,1013.31 928.67,1013.66 930.15,1014.22 931.63,1015.00 933.11,1015.97 934.60,1017.14 936.08,1018.47 937.56,1019.94 939.04,1021.54 940.53,1023.25 942.01,1025.03 943.49,1026.88 944.97,1028.75 946.46,1030.64 947.94,1032.52 949.42,1034.37 950.90,1036.17 952.38,1037.92 953.87,1039.59 955.35,1041.18 956.83,1042.68 958.32,1044.09 959.80,1045.39 961.28,1046.59 962.76,1047.69 964.25,1048.69 965.73,1049.59 967.21,1050.40 968.69,1051.12 970.17,1051.75 971.66,1052.31 973.14,1052.80 974.62,1053.22 976.11,1053.58 977.59,1053.89 979.07,1054.16 980.55,1054.38 982.03,1054.57 983.52,1054.73 985.00,1054.86" fill="none" stroke="#000" stroke-width="2.15"/>
<polyline points="841.40,1108.76 842.88,1108.63 844.37,1108.47 845.85,1108.28 847.33,1108.06 848.81,1107.79 850.30,1107.48 851.78,1107.12 853.26,1106.70 854.74,1106.21 856.23,1105.65 857.71,1105.02 859.19,1104.30 860.67,1103.49 862.16,1102.59 863.64,1101.59 865.12,1100.49 866.60,1099.29 868.09,1097.99 869.57,1096.58 871.05,1095.08 872.53,1093.49 874.02,1091.82 875.50,1090.07 876.98,1088.27 878.46,1086.42 879.95,1084.54 881.43,1082.65 882.91,1080.78 884.39,1078.93 885.88,1077.15 887.36,1075.44 888.84,1073.84 890.32,1072.37 891.81,1071.04 893.29,1069.87 894.77,1068.90 896.25,1068.12 897.74,1067.56 899.22,1067.21 900.70,1067.10 902.18,1067.21 903.67,1067.56 905.15,1068.12 906.63,1068.90 908.11,1069.87 909.60,1071.04 911.08,1072.37 912.56,1073.84 914.04,1075.44 915.53,1077.15 917.01,1078.93 918.49,1080.78 919.97,1082.65 921.46,1084.54 922.94,1086.42 924.42,1088.27 925.90,1090.07 927.38,1091.82 928.87,1093.49 930.35,1095.08 931.83,1096.58 933.32,1097.99 934.80,1099.29 936.28,1100.49 937.76,1101.59 939.25,1102.59 940.73,1103.49 942.21,1104.30 943.69,1105.02 945.17,1105.65 946.66,1106.21 948.14,1106.70 949.62,1107.12 951.11,1107.48 952.59,1107.79 954.07,1108.06 955.55,1108.28 957.03,1108.47 958.52,1108.63 960.00,1108.76" fill="none" stroke="#000" stroke-width="2.15"/>
<rect x="894.55" y="993.4" width="12.1" height="123.0" fill="none" stroke="#000" stroke-width="2.1"/>
<text x="862.5" y="980.4" font-size="34.3" class="i">t</text>
<text x="869.8" y="988.5" font-size="25.0" class="u">d</text>
<text x="921.4" y="980.4" font-size="34.3" class="u">0</text>
<text x="891.1" y="980.4" font-size="34.3" class="u" textLength="23.1" lengthAdjust="spacingAndGlyphs">&gt;</text>
<line x1="861.10" y1="1125.30" x2="928.20" y2="1125.30" stroke="#000" stroke-width="2.3" />
<polygon points="942.20,1125.30 921.50,1133.80 926.00,1125.30 921.50,1116.80" fill="#000"/>
<text x="948.6" y="1136.0" font-size="34.3" text-anchor="start" class="i" >z</text>
<text x="446.6" y="1017.2" font-size="27.1" text-anchor="start" class="u" >Pump</text>
<line x1="521.40" y1="1021.50" x2="547.30" y2="1034.30" stroke="#000" stroke-width="2.3" />
<text x="446.6" y="1083.5" font-size="27.1" text-anchor="start" class="u" >Probe</text>
<line x1="531.40" y1="1086.20" x2="557.30" y2="1100.00" stroke="#000" stroke-width="2.3" />
<text x="633.3" y="1013.1" font-size="27.1" text-anchor="start" class="u" >ITO</text>
<line x1="611.50" y1="1019.50" x2="634.70" y2="1007.30" stroke="#000" stroke-width="2.3" />
</svg>
</body></html>
